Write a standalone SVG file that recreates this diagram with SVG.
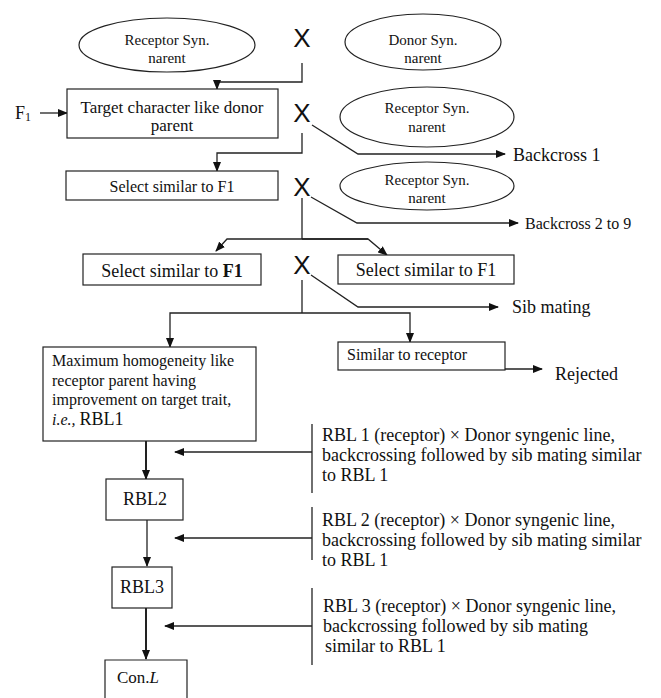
<svg xmlns="http://www.w3.org/2000/svg" width="661" height="698" viewBox="0 0 661 698" font-family="'Liberation Serif', 'DejaVu Serif', 'Times New Roman', serif">
<style>
text{font-family:'Liberation Serif','DejaVu Serif','Times New Roman',serif;fill:#111}
text.x{font-family:'Liberation Sans',Arial,sans-serif;font-size:26px;text-anchor:middle}
.el{fill:#fff;stroke:#222;stroke-width:1.2}
.bx{fill:#fff;stroke:#222;stroke-width:1.2}
.ln{fill:none;stroke:#222;stroke-width:1.3}
.tk{fill:none;stroke:#222;stroke-width:2}
.c{text-anchor:middle}
.s15{font-size:15px}.s16{font-size:16px}.s17{font-size:17px}.s18{font-size:18px}
</style>
<defs>
<marker id="ah" markerWidth="10" markerHeight="8" refX="9" refY="4" orient="auto" markerUnits="userSpaceOnUse">
<path d="M0,0 L10,4 L0,8 Z" fill="#111"/>
</marker>
</defs>
<rect width="661" height="698" fill="#fff"/>
<g id="connectors">
<path class="ln" d="M302,63 V82 H217 V89" marker-end="url(#ah)"/>
<path class="ln" d="M40,113 H67" marker-end="url(#ah)"/>
<path class="ln" d="M312,125 L358,154 H505" marker-end="url(#ah)"/>
<path class="ln" d="M302,133 V153 H217 V171" marker-end="url(#ah)"/>
<path class="ln" d="M311,197 L357,223 H518" marker-end="url(#ah)"/>
<path class="ln" d="M302,198 V239"/>
<path class="ln" d="M368,239 H227 L216,251" marker-end="url(#ah)"/>
<path class="ln" d="M302,239 H368 L387,255" marker-end="url(#ah)"/>
<path class="ln" d="M311,275 L358,307 H498" marker-end="url(#ah)"/>
<path class="ln" d="M302,280 V313"/>
<path class="ln" d="M302,313 H170 V347" marker-end="url(#ah)"/>
<path class="ln" d="M302,313 H410 V342" marker-end="url(#ah)"/>
<path class="ln" d="M505,369 H542" marker-end="url(#ah)"/>
<path class="tk" d="M146,441 V479" marker-end="url(#ah)"/>
<path class="ln" d="M312,424 V493"/>
<path class="ln" d="M312,452 H175" marker-end="url(#ah)"/>
<path class="ln" d="M147,520 V566" marker-end="url(#ah)"/>
<path class="ln" d="M312,507 V560"/>
<path class="ln" d="M312,538 H175" marker-end="url(#ah)"/>
<path class="tk" d="M146,608 V659" marker-end="url(#ah)"/>
<path class="ln" d="M312,588 V665"/>
<path class="ln" d="M312,626 H165" marker-end="url(#ah)"/>
</g>
<g id="receptor1">
<ellipse class="el" cx="167" cy="45" rx="88" ry="27"/>
<text class="c s15" x="167" y="45">Receptor Syn.</text>
<text class="c s15" x="167" y="63">narent</text>
</g>
<g id="cross1"><text class="x" x="302" y="47">X</text></g>
<g id="donor">
<ellipse class="el" cx="423" cy="42" rx="78" ry="28"/>
<text class="c s15" x="423" y="45">Donor Syn.</text>
<text class="c s15" x="423" y="63">narent</text>
</g>
<g id="f1"><text class="s18" x="15" y="119">F<tspan font-size="12" dy="2">1</tspan></text></g>
<g id="target">
<rect class="bx" x="67" y="89" width="211" height="49"/>
<text class="c s17" x="172" y="113">Target character like donor</text>
<text class="c s17" x="172" y="131">parent</text>
</g>
<g id="cross2"><text class="x" x="302" y="122">X</text></g>
<g id="receptor2">
<ellipse class="el" cx="427" cy="117" rx="87" ry="30"/>
<text class="c s15" x="427" y="113">Receptor Syn.</text>
<text class="c s15" x="427" y="132">narent</text>
</g>
<g id="bc1"><text class="s18" x="513" y="161">Backcross 1</text></g>
<g id="select1">
<rect class="bx" x="66" y="171" width="212" height="29"/>
<text class="c s16" x="172" y="192">Select similar to F1</text>
</g>
<g id="cross3"><text class="x" x="302" y="196">X</text></g>
<g id="receptor3">
<ellipse class="el" cx="427" cy="186" rx="87" ry="24"/>
<text class="c s15" x="427" y="185">Receptor Syn.</text>
<text class="c s15" x="427" y="203">narent</text>
</g>
<g id="bc29"><text class="s16" x="525" y="229">Backcross 2 to 9</text></g>
<g id="select2">
<rect class="bx" x="83" y="254" width="178" height="31"/>
<text class="c s18" x="172" y="277">Select similar to <tspan font-weight="bold">F1</tspan></text>
</g>
<g id="cross4"><text class="x" x="302" y="274">X</text></g>
<g id="select3">
<rect class="bx" x="338" y="255" width="176" height="29"/>
<text class="c s18" x="426" y="276">Select similar to F1</text>
</g>
<g id="sib"><text class="s18" x="512" y="313">Sib mating</text></g>
<g id="maxhom">
<rect class="bx" x="43" y="347" width="213" height="94"/>
<text class="s16" x="52" y="366">Maximum homogeneity like</text>
<text class="s16" x="52" y="386">receptor parent having</text>
<text class="s16" x="52" y="405">improvement on target trait,</text>
<text class="s16" x="52" y="425"><tspan font-style="italic">i.e.,</tspan> <tspan font-size="18">RBL1</tspan></text>
</g>
<g id="similar">
<rect class="bx" x="338" y="342" width="167" height="28"/>
<text class="s16" x="347" y="360">Similar to receptor</text>
</g>
<g id="rejected"><text class="s18" x="555" y="380">Rejected</text></g>
<g id="note1">
<text class="s18" x="322" y="441">RBL 1 (receptor) × Donor syngenic line,</text>
<text class="s18" x="322" y="461">backcrossing followed by sib mating similar</text>
<text class="s18" x="322" y="481">to RBL 1</text>
</g>
<g id="rbl2">
<rect class="bx" x="106" y="479" width="77" height="41"/>
<text class="c s18" x="145" y="505">RBL2</text>
</g>
<g id="note2">
<text class="s18" x="322" y="526">RBL 2 (receptor) × Donor syngenic line,</text>
<text class="s18" x="322" y="546">backcrossing followed by sib mating similar</text>
<text class="s18" x="322" y="566">to RBL 1</text>
</g>
<g id="rbl3">
<rect class="bx" x="112" y="567" width="60" height="41"/>
<text class="c s18" x="142" y="593">RBL3</text>
</g>
<g id="note3">
<text class="s18" x="323" y="612">RBL 3 (receptor) × Donor syngenic line,</text>
<text class="s18" x="323" y="632">backcrossing followed by sib mating</text>
<text class="s18" x="325" y="652">similar to RBL 1</text>
</g>
<g id="conl">
<path class="bx" d="M105,699 V660 H187 V699"/>
<text class="s17" x="117" y="683">Con.<tspan font-style="italic">L</tspan></text>
</g>
</svg>
